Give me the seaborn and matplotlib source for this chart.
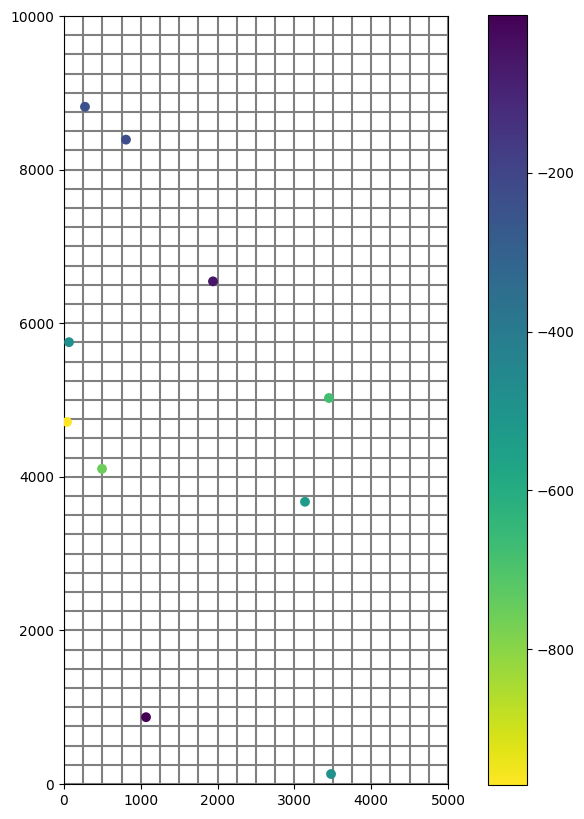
import matplotlib
matplotlib.use("Agg")
import matplotlib.pyplot as plt
import seaborn as sns
import pandas as pd
import numpy as np
from matplotlib.ticker import MultipleLocator
from matplotlib.colors import Normalize
from matplotlib.cm import ScalarMappable

x_vals = [273, 807, 1940, 65, 3450, 39, 495, 3138, 1068, 3477]
y_vals = [8818, 8390, 6545, 5753, 5026, 4714, 4104, 3675, 870, 130]
z_vals = [-243, -232, -55, -482, -678, -971, -752, -532, -1, -487]

df = pd.DataFrame({"x": x_vals, "y": y_vals, "z": z_vals})

fig = plt.figure(figsize=(5.84, 8.19), dpi=100)
ax = fig.add_axes([64/584, 34/819, 384/584, 770/819])
cax = fig.add_axes([488/584, 34/819, 38.5/584, 770/819])

norm = Normalize(vmin=min(z_vals), vmax=max(z_vals))
cmap = plt.get_cmap("viridis_r")

sns.scatterplot(data=df, x="x", y="y", hue="z", hue_norm=norm, palette=cmap,
                s=50, linewidth=0, legend=False, ax=ax, zorder=3)

ax.set_xlim(0, 5000)
ax.set_ylim(0, 10000)
ax.set_aspect("equal", adjustable="box")
ax.xaxis.set_major_locator(MultipleLocator(1000))
ax.yaxis.set_major_locator(MultipleLocator(2000))
ax.xaxis.set_minor_locator(MultipleLocator(250))
ax.yaxis.set_minor_locator(MultipleLocator(250))
ax.tick_params(which="minor", length=0)
ax.grid(which="both", color="gray", linewidth=1.5)
ax.set_axisbelow(True)
ax.set_xlabel("")
ax.set_ylabel("")

sm = ScalarMappable(norm=norm, cmap=cmap)
sm.set_array([])
fig.colorbar(sm, cax=cax)

fig.savefig("out.png", dpi=100)
